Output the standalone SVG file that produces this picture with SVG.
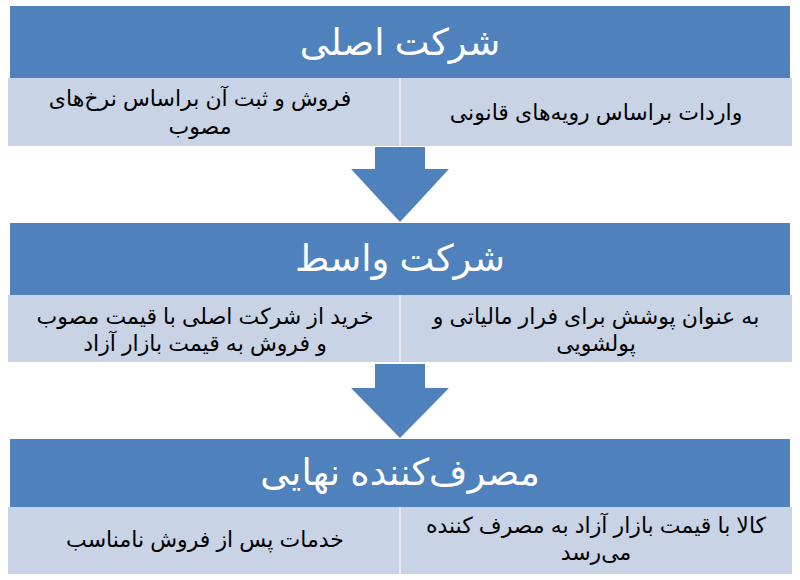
<svg xmlns="http://www.w3.org/2000/svg" width="800" height="580" viewBox="0 0 800 580">
<style>
.hdr{fill:#4F81BD}
.pnl{fill:#C9D3E6}
.div{stroke:#E4E9F2;stroke-width:2}
.arrow{fill:#4F81BD}
.ht{font-family:"Liberation Sans","DejaVu Sans",sans-serif;font-size:37px;fill:#FFFFFF;text-anchor:middle;direction:rtl}
.pt{font-family:"Liberation Sans","DejaVu Sans",sans-serif;font-size:22px;fill:#000000;text-anchor:middle;direction:rtl}
</style>
<rect width="800" height="580" fill="#FFFFFF"/>
<g id="connectors">
<polygon class="arrow" points="375,147 425,147 425,169 449,169 400,222 351,169 375,169"/>
<polygon class="arrow" points="375,364 425,364 425,388 449,388 400,438 351,388 375,388"/>
</g>
<g id="node1">
<rect class="hdr" x="10" y="6" width="780" height="72"/>
<text class="ht" x="400" y="55">شرکت اصلی</text>
<rect class="pnl" x="8" y="78" width="784" height="68"/>
<line class="div" x1="400" y1="78" x2="400" y2="146"/>
<text class="pt" x="200" y="106">فروش و ثبت آن براساس نرخ‌های</text>
<text class="pt" x="200" y="134">مصوب</text>
<text class="pt" x="596" y="120">واردات براساس رویه‌های قانونی</text>
</g>
<g id="node2">
<rect class="hdr" x="10" y="223" width="780" height="72"/>
<text class="ht" x="400" y="271">شرکت واسط</text>
<rect class="pnl" x="8" y="295" width="784" height="67"/>
<line class="div" x1="400" y1="295" x2="400" y2="362"/>
<text class="pt" x="205" y="324">خرید از شرکت اصلی با قیمت مصوب</text>
<text class="pt" x="205" y="351">و فروش به قیمت بازار آزاد</text>
<text class="pt" x="596" y="324">به عنوان پوشش برای فرار مالیاتی و</text>
<text class="pt" x="596" y="351">پولشویی</text>
</g>
<g id="node3">
<rect class="hdr" x="10" y="439" width="780" height="68"/>
<text class="ht" x="400" y="485">مصرف‌کننده نهایی</text>
<rect class="pnl" x="8" y="507" width="784" height="67"/>
<line class="div" x1="400" y1="507" x2="400" y2="574"/>
<text class="pt" x="205" y="547">خدمات پس از فروش نامناسب</text>
<text class="pt" x="596" y="533">کالا با قیمت بازار آزاد به مصرف کننده</text>
<text class="pt" x="596" y="560">می‌رسد</text>
</g>
</svg>
